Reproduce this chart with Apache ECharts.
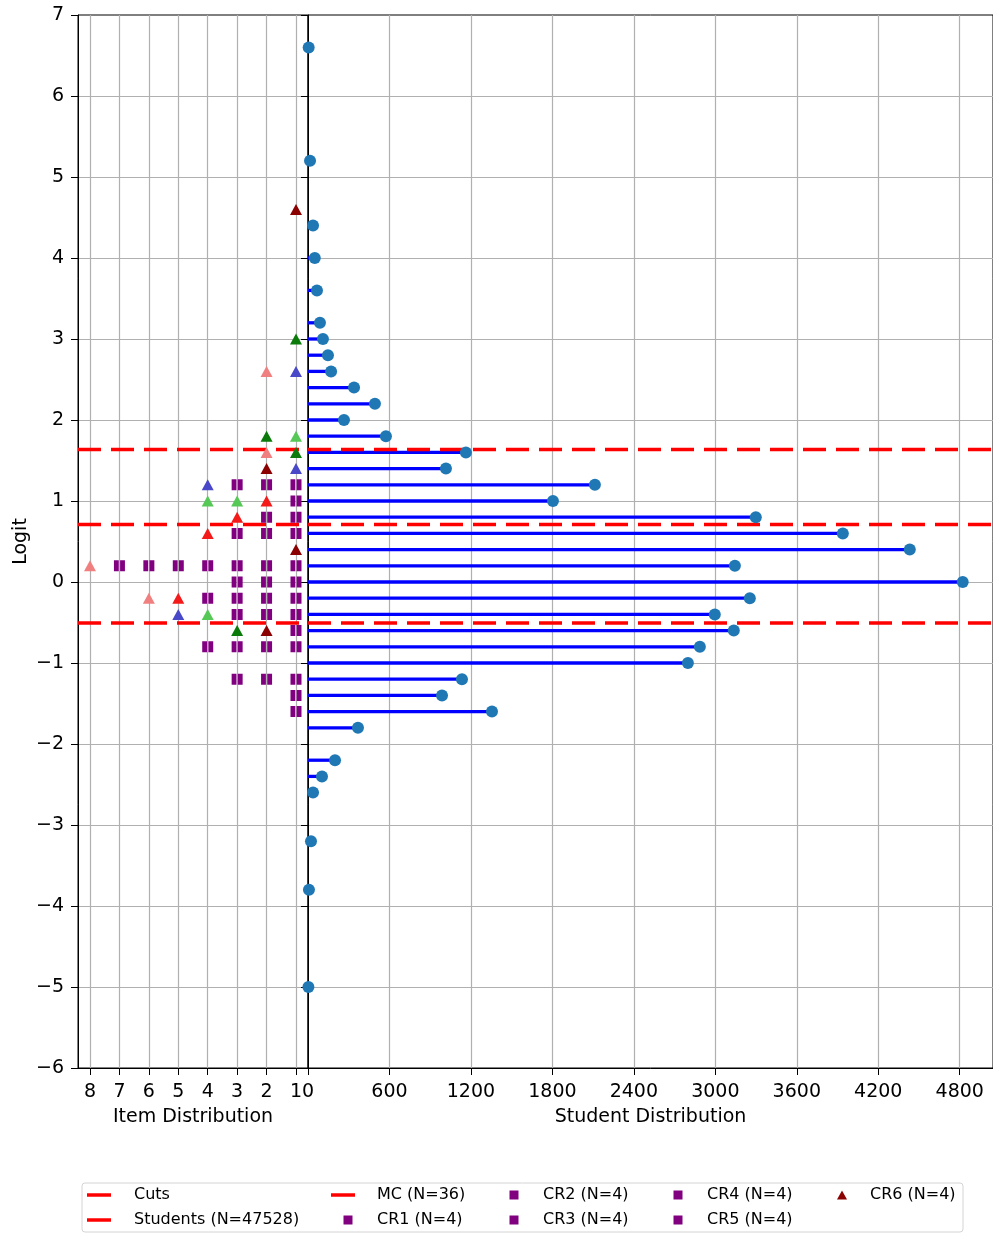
<!DOCTYPE html>
<html><head><meta charset="utf-8">
<script src="https://cdn.jsdelivr.net/npm/echarts@6/dist/echarts.min.js"></script>
<style>html,body{margin:0;padding:0;background:#fff}#c{width:993px;height:1234px}</style>
</head><body><div id="c"></div>
<script>
// ---------- data ----------
const studentLogits = [6.6,5.2,4.4,4.0,3.6,3.2,3.0,2.8,2.6,2.4,2.2,2.0,1.8,1.6,1.4,1.2,1.0,0.8,0.6,0.4,0.2,0.0,-0.2,-0.4,-0.6,-0.8,-1.0,-1.2,-1.4,-1.6,-1.8,-2.2,-2.4,-2.6,-3.2,-3.8,-5.0];
const studentCounts = [5,15,37,50,66,88,110,147,170,339,493,265,574,1163,1016,2113,1804,3298,3939,4432,3144,4822,3254,2996,3136,2886,2798,1134,987,1355,368,199,103,37,22,7,3];
const cutLogits = [1.636, 0.71, -0.506];
const mcLogits = [1.2,1.2,1.2,1.0,0.8,0.8,0.6,0.6,0.6,0.2,0.2,0.2,0.2,0.2,0.2,0.2,0.0,0.0,0.0,-0.2,-0.2,-0.2,-0.2,-0.4,-0.4,-0.4,-0.6,-0.8,-0.8,-0.8,-0.8,-1.2,-1.2,-1.2,-1.4,-1.6];
const cr1Logits = [1.0,0.8,0.6,-0.2];
const cr2Logits = [1.8,1.0,1.0,-0.4];
const cr3Logits = [2.6,1.4,1.2,-0.4];
const cr4Logits = [3.0,1.8,1.6,-0.6];
const cr5Logits = [2.6,1.6,0.2,-0.2];
const cr6Logits = [4.6,1.4,0.4,-0.6];
const itemTicks = [1,2,3,4,5,6,7,8];
const studentTicks = [0,600,1200,1800,2400,3000,3600,4200,4800];
const logitMin = -6, logitMax = 7;
const itemMin = 0.592, itemMax = 8.408;
const studentMax = 5045;

// ---------- styles ----------
const FONT = "'DejaVu Sans', sans-serif";
const GRIDC = '#b0b0b0';
const itemSeriesDefs = [
  {name:'MC (N=36)', logits: mcLogits, color:'#800080', symbol:'path://M0,0h4.4v10h-4.4zM5.6,0h4.4v10h-4.4z', size:[11,11]},
  {name:'CR1 (N=4)', logits: cr1Logits, color:'#f41a1a', symbol:'triangle', size:[12,11]},
  {name:'CR2 (N=4)', logits: cr2Logits, color:'#55c855', symbol:'triangle', size:[12,11]},
  {name:'CR3 (N=4)', logits: cr3Logits, color:'#4848c8', symbol:'triangle', size:[12,11]},
  {name:'CR6 (N=4)', logits: cr6Logits, color:'#8b0000', symbol:'triangle', size:[12,11]},
  {name:'CR4 (N=4)', logits: cr4Logits, color:'#0a7a0a', symbol:'triangle', size:[12,11]},
  {name:'CR5 (N=4)', logits: cr5Logits, color:'#f08080', symbol:'triangle', size:[12,11]}
];

// stack items per logit row (plot order)
const rowCount = {};
const itemSeries = itemSeriesDefs.map(d => {
  const data = d.logits.map(v => {
    const k = Math.round(v * 10);
    rowCount[k] = (rowCount[k] || 0) + 1;
    return [rowCount[k], v];
  });
  return {
    type:'scatter', name:d.name, xAxisIndex:0, yAxisIndex:0, data,
    symbol:d.symbol, symbolSize:d.size, itemStyle:{color:d.color, opacity:1}, z:5, silent:true
  };
});

const cutSeries = [];
cutLogits.forEach(c => {
  cutSeries.push({type:'line', name:'Cuts', xAxisIndex:0, yAxisIndex:0, data:[[itemMax,c],[itemMin,c]],
    symbol:'none', lineStyle:{color:'#ff0000', width:3.3, type:[23,10]}, z:4, silent:true});
  cutSeries.push({type:'line', name:'Cuts', xAxisIndex:1, yAxisIndex:1, data:[[0,c],[studentMax,c]],
    symbol:'none', lineStyle:{color:'#ff0000', width:3.3, type:[23,10]}, z:4, silent:true});
});

const studentData = studentLogits.map((y, i) => [studentCounts[i], y]);

const baseYAxis = {
  type:'value', min:logitMin, max:logitMax, interval:1,
  axisLine:{show:true, onZero:false, lineStyle:{color:'#000', width:1}},
  axisTick:{show:true, length:7, lineStyle:{color:'#000'}},
  splitLine:{show:true, showMinLine:false, showMaxLine:false, lineStyle:{color:GRIDC, width:1.2}}
};

const legendDefs = [
  {name:'Cuts', x:87, y:1195, w:24, h:3.5, icon:'rect', color:'#ff0000', tx:134},
  {name:'Students (N=47528)', x:87, y:1220, w:24, h:3.5, icon:'rect', color:'#ff0000', tx:134},
  {name:'MC (N=36)', x:331, y:1195, w:24, h:3.5, icon:'rect', color:'#ff0000', tx:377},
  {name:'CR1 (N=4)', x:343.5, y:1220, w:9, h:9, icon:'rect', color:'#800080', tx:377},
  {name:'CR2 (N=4)', x:509.5, y:1195, w:9, h:9, icon:'rect', color:'#800080', tx:543},
  {name:'CR3 (N=4)', x:509.5, y:1220, w:9, h:9, icon:'rect', color:'#800080', tx:543},
  {name:'CR4 (N=4)', x:673.5, y:1195, w:9, h:9, icon:'rect', color:'#800080', tx:707},
  {name:'CR5 (N=4)', x:673.5, y:1220, w:9, h:9, icon:'rect', color:'#800080', tx:707},
  {name:'CR6 (N=4)', x:837, y:1195, w:10, h:9, icon:'triangle', color:'#8b0000', tx:870}
];
const legends = legendDefs.map(l => ({
  left:l.x, top:l.y - 8, padding:0, itemWidth:l.w, itemHeight:l.h, selectedMode:false, z:10,
  data:[{name:l.name, icon:l.icon, itemStyle:{color:l.color, borderWidth:0, opacity:1}}],
  textStyle:{fontFamily:FONT, fontSize:16, color:'#000', padding:[0,0,0,l.tx - l.x - l.w - 5]}
}));

const chart = echarts.init(document.getElementById('c'), null, {renderer:'canvas'});
chart.setOption({
  animation:false,
  backgroundColor:'#fff',
  textStyle:{fontFamily:FONT},
  graphic:[{type:'rect', shape:{x:82, y:1183, width:881, height:49, r:3},
    style:{fill:'#fff', stroke:'#d4d4d4', lineWidth:1}, z:1}],
  legend: legends,
  grid:[
    {left:78, top:15, width:230, height:1053, show:true, borderColor:'#000', borderWidth:1, backgroundColor:'transparent'},
    {left:308, top:15, width:687, height:1053, show:true, borderColor:'#000', borderWidth:1, backgroundColor:'transparent'}
  ],
  xAxis:[
    {type:'value', gridIndex:0, inverse:true, min:itemMin, max:itemMax, position:'bottom',
      name:'Item Distribution', nameLocation:'middle', nameGap:40,
      nameTextStyle:{fontFamily:FONT, fontSize:19, color:'#000'},
      axisLine:{show:true, onZero:false, lineStyle:{color:'#000'}},
      axisTick:{show:true, length:7, customValues:itemTicks, lineStyle:{color:'#000'}},
      axisLabel:{customValues:itemTicks, margin:15, fontFamily:FONT, fontSize:19, color:'#000', formatter:v => String(v)},
      splitLine:{show:true, lineStyle:{color:GRIDC, width:1.2}}},
    {type:'value', gridIndex:1, min:0, max:studentMax, position:'bottom',
      name:'Student Distribution', nameLocation:'middle', nameGap:40,
      nameTextStyle:{fontFamily:FONT, fontSize:19, color:'#000'},
      axisLine:{show:true, onZero:false, lineStyle:{color:'#000'}},
      axisTick:{show:true, length:7, customValues:studentTicks, lineStyle:{color:'#000'}},
      axisLabel:{customValues:studentTicks, margin:15, fontFamily:FONT, fontSize:19, color:'#000', formatter:v => String(v)},
      splitLine:{show:true, showMinLine:false, lineStyle:{color:GRIDC, width:1.2}}}
  ],
  yAxis:[
    Object.assign({}, baseYAxis, {gridIndex:0, position:'left',
      name:'Logit', nameLocation:'middle', nameGap:47, nameRotate:90,
      nameTextStyle:{fontFamily:FONT, fontSize:19, color:'#000'},
      axisLabel:{margin:14, fontFamily:FONT, fontSize:19, color:'#000',
        formatter:v => (v < 0 ? '\u2212' + Math.abs(v) : String(v))}}),
    Object.assign({}, baseYAxis, {gridIndex:1, position:'left', axisLabel:{show:false}})
  ],
  series:[
    {type:'custom', name:'Students (N=47528)', xAxisIndex:1, yAxisIndex:1, data:studentData, z:3, silent:true,
      encode:{x:0, y:1},
      renderItem:(params, api) => {
        const v = api.value(0), y = api.value(1);
        const p0 = api.coord([0, y]), p1 = api.coord([v, y]);
        return {type:'line', shape:{x1:p0[0], y1:p0[1], x2:p1[0], y2:p1[1]},
          style:{stroke:'#0000ff', lineWidth:3.3}};
      }},
    ...cutSeries,
    {type:'scatter', name:'Students (N=47528)', xAxisIndex:1, yAxisIndex:1, data:studentData,
      symbol:'circle', symbolSize:12, itemStyle:{color:'#1f77b4', opacity:1}, z:5, silent:true},
    ...itemSeries
  ]
});
</script></body></html>
